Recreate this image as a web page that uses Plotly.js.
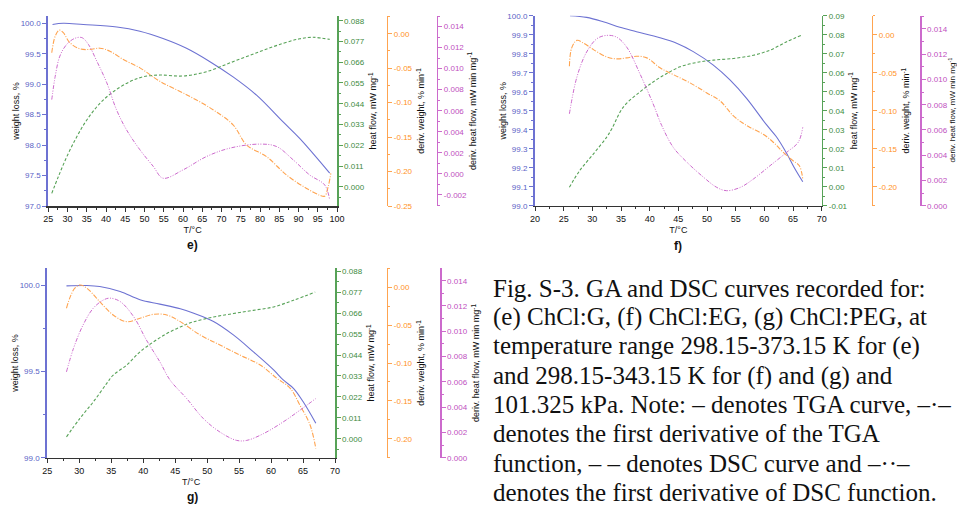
<!DOCTYPE html>
<html><head><meta charset="utf-8">
<script src="https://cdn.plot.ly/plotly-3.0.1.min.js"></script>
<style>html,body{margin:0;padding:0;background:#fff}#chart{width:957px;height:506px}</style>
</head><body><div id="chart"></div>
<script>
// ---------- Panel e: ChCl:G ----------
const eT_tga=[26.1,28.9,34.1,42.8,48.8,54.8,60.9,67.0,73.0,79.1,86.0,90.3,98.1];
const e_tga=[99.98,100.0,99.98,99.94,99.87,99.75,99.59,99.37,99.12,98.82,98.38,98.11,97.54];
const eT_dsc=[25.9,27.6,29.8,32.4,35.0,38.4,41.9,46.2,49.7,54.0,60.0,66.1,73.0,79.9,86.0,90.3,93.8,98.1];
const e_dsc=[-0.0035,0.0053,0.0159,0.0265,0.0354,0.0442,0.0504,0.0557,0.0583,0.0592,0.0587,0.0610,0.0663,0.0716,0.0760,0.0784,0.0792,0.0781];
const eT_dtg=[25.9,26.8,27.9,28.9,30.6,33.2,35.8,38.4,41.0,44.5,48.8,54.0,60.9,67.8,73.0,76.5,81.7,86.9,92.1,95.5,96.8,97.7,98.4];
const e_dtg=[-0.0277,-0.0035,0.0052,0.0015,-0.0131,-0.0219,-0.0229,-0.0210,-0.0254,-0.0375,-0.0496,-0.0691,-0.0885,-0.1103,-0.1322,-0.1614,-0.1784,-0.2051,-0.2245,-0.2343,-0.2357,-0.2221,-0.2026];
const eT_ddsc=[25.9,26.8,28.0,29.8,31.9,33.7,35.4,37.6,40.2,42.7,45.3,48.8,52.3,54.8,60.0,66.1,72.2,79.9,84.3,88.6,92.9,96.8,98.1];
const e_ddsc=[0.00706,0.00928,0.01119,0.01231,0.01288,0.01295,0.01231,0.01071,0.00865,0.00611,0.00420,0.00229,0.00070,-0.00041,0.00038,0.00165,0.00245,0.00283,0.00260,0.00134,-0.00010,-0.00105,-0.00248];

// ---------- Panel f: ChCl:EG ----------
const fT_tga=[26.1,29.0,31.9,34.8,37.7,41.8,44.7,47.6,51.1,54.0,56.9,60.4,62.1,63.9,65.3,66.7];
const f_tga=[100.0,99.991,99.968,99.939,99.916,99.884,99.855,99.811,99.740,99.662,99.565,99.425,99.363,99.275,99.196,99.126];
const fT_dsc=[26.0,27.8,30.2,32.5,33.4,35.4,38.3,40.6,43.0,45.3,48.2,51.1,54.6,58.1,61.0,63.9,66.5];
const f_dsc=[-0.0003,0.0085,0.0173,0.0261,0.0305,0.0419,0.0499,0.0551,0.0596,0.0631,0.0654,0.0666,0.0675,0.0692,0.0719,0.0763,0.0798];
const fT_dtg=[26.0,26.4,27.3,28.4,30.2,32.5,34.2,36.0,37.7,39.5,41.8,44.1,47.0,49.9,52.3,54.6,56.3,57.5,59.8,61.6,63.3,65.0,66.1,66.7];
const f_dtg=[-0.0415,-0.0174,-0.0075,-0.0109,-0.0196,-0.0292,-0.0318,-0.0305,-0.0284,-0.0305,-0.0436,-0.0524,-0.0632,-0.0763,-0.0873,-0.1069,-0.1165,-0.1221,-0.1309,-0.1418,-0.1548,-0.1658,-0.1724,-0.1898];
const fT_ddsc=[26.0,27.3,29.0,30.8,32.5,34.2,36.0,38.3,40.6,42.1,44.1,46.5,49.4,51.7,53.4,55.8,58.1,61.0,63.9,65.9,66.7];
const f_ddsc=[0.00728,0.01018,0.01217,0.01323,0.01349,0.01336,0.01256,0.01045,0.00807,0.00635,0.00463,0.00344,0.00225,0.00145,0.00119,0.00145,0.00212,0.00317,0.00423,0.00502,0.00621];

// ---------- Panel g: ChCl:PEG ----------
const gT_tga=[28.0,31.2,33.2,36.4,39.5,42.6,45.8,47.8,51.0,54.1,57.2,60.4,61.9,63.5,65.0,67.0];
const g_tga=[99.998,100.0,99.994,99.965,99.917,99.892,99.865,99.840,99.791,99.713,99.616,99.510,99.452,99.403,99.326,99.200];
const gT_dsc=[28.0,30.1,32.2,34.3,35.3,37.4,39.5,41.6,43.7,45.8,47.8,51.0,54.1,57.2,60.4,63.5,66.9];
const g_dsc=[0.0010,0.0107,0.0194,0.0291,0.0334,0.0387,0.0457,0.0509,0.0553,0.0588,0.0614,0.0640,0.0658,0.0675,0.0693,0.0728,0.0771];
const gT_dtg=[28.0,28.6,29.3,30.1,31.2,33.2,35.3,37.4,39.5,41.6,43.7,45.8,48.9,52.0,55.1,58.3,60.9,63.0,64.5,66.1,67.0];
const g_dtg=[-0.0277,-0.0124,-0.0013,0.0030,-0.0013,-0.0190,-0.0366,-0.0454,-0.0410,-0.0357,-0.0366,-0.0454,-0.0630,-0.0762,-0.0894,-0.1026,-0.1202,-0.1334,-0.1555,-0.1819,-0.2127];
const gT_ddsc=[28.0,29.1,30.6,32.2,33.8,34.8,36.4,38.5,40.5,42.6,44.2,46.8,49.4,52.0,54.6,56.2,58.8,61.9,64.5,67.0];
const g_ddsc=[0.00679,0.00865,0.0105,0.01183,0.01248,0.01262,0.01235,0.01116,0.00931,0.00759,0.00614,0.00468,0.0031,0.00203,0.00137,0.00137,0.0019,0.00283,0.00375,0.00468];

// ---------- Tick labels ----------
const eXticks=[25,30,35,40,45,50,55,60,65,70,75,80,85,90,95,100];
const fgXticks=[20,25,30,35,40,45,50,55,60,65,70];
const gXticks=[25,30,35,40,45,50,55,60,65,70];
const eWticks=['97.0','97.5','98.0','98.5','99.0','99.5','100.0'];
const fWticks=['99.0','99.1','99.2','99.3','99.4','99.5','99.6','99.7','99.8','99.9','100.0'];
const gWticks=['99.0','99.5','100.0'];
const eHFticks=['0.000','0.011','0.022','0.033','0.044','0.055','0.066','0.077','0.088'];
const fHFticks=['-0.01','0.00','0.01','0.02','0.03','0.04','0.05','0.06','0.07','0.08','0.09'];
const eDWticks=['-0.25','-0.20','-0.15','-0.10','-0.05','0.00'];
const fgDWticks=['-0.20','-0.15','-0.10','-0.05','0.00'];
const eDHticks=['-0.002','0.000','0.002','0.004','0.006','0.008','0.010','0.012','0.014'];
const fgDHticks=['0.000','0.002','0.004','0.006','0.008','0.010','0.012','0.014'];

const caption=[
 'Fig. S-3. GA and DSC curves recorded for:',
 '(e) ChCl:G, (f) ChCl:EG, (g) ChCl:PEG, at',
 'temperature range 298.15-373.15 K for (e)',
 'and 298.15-343.15 K for (f) and (g) and',
 '101.325 kPa. Note: \u2013 denotes TGA curve, \u2013\u00b7\u2013',
 'denotes the first derivative of the TGA',
 'function, \u2013 \u2013 denotes DSC curve and \u2013\u00b7\u00b7\u2013',
 'denotes the first derivative of DSC function.'
];

// ---------- styling ----------
const W=957,H=506;
const PX=p=>p/W, PY=p=>(H-p)/H;
const BLUE='#6d72d2', BLUE_T='#5a5fc6', GREEN='#57a257', GREEN_T='#3d8b3d', ORANGE='#ffa450', ORANGE_T='#ff9326', PURPLE='#cc6acc', PURPLE_T='#c04fc0';
const FONT='Liberation Sans, Arial, sans-serif';
const tf=(c)=>({family:FONT,size:8,color:c});
const ttl=(t)=>({text:t,font:{family:FONT,size:9,color:'#111'}});
const num=a=>a.map(Number);

function xax(dom,range,ticks,anchor,minorD){
  return {domain:dom,range:range,anchor:anchor,showline:true,linecolor:'#333',linewidth:1.5,
    ticks:'outside',ticklen:4,tickcolor:'#333',tickmode:'array',tickvals:ticks,ticktext:ticks.map(String),
    tickfont:{family:FONT,size:9,color:'#111'},minor:{ticks:'outside',ticklen:2,tickcolor:'#333',tickmode:'linear',tick0:ticks[0],dtick:minorD},
    title:{text:'T/°C',font:{family:FONT,size:9,color:'#111'},standoff:3},showgrid:false,zeroline:false,fixedrange:true};
}
function yax(o){
  const base={showline:true,ticks:'outside',ticklen:4,tickmode:'array',showgrid:false,zeroline:false,fixedrange:true};
  const a=Object.assign(base,o);
  a.tickvals=num(o.labels); a.ticktext=o.labels;
  a.minor={ticks:'outside',ticklen:2,tickcolor:o.linecolor,tickmode:'linear',tick0:Number(o.labels[0]),dtick:o.md};
  delete a.labels; delete a.md;
  return a;
}

const eDom=[PY(206),PY(16)], fDom=[PY(205.7),PY(15.7)], gDom=[PY(457.7),PY(268.3)];
const layout={
  width:W,height:H,margin:{l:0,r:0,t:0,b:0},paper_bgcolor:'#fff',plot_bgcolor:'rgba(0,0,0,0)',showlegend:false,
  xaxis: xax([PX(48.3),PX(337)],[25,100],eXticks,'y',2.5),
  xaxis2:xax([PX(535),PX(821.7)],[20,70],fgXticks,'y5',2.5),
  xaxis3:xax([PX(47.3),PX(335)],[25,70],gXticks,'y9',2.5),
  // panel e
  yaxis: yax({domain:eDom,range:[97,100.12],anchor:'x',side:'left',linecolor:BLUE,linewidth:2,tickcolor:BLUE,tickfont:tf(BLUE_T),labels:eWticks,md:0.25,title:ttl('weight loss, %')}),
  yaxis2:yax({overlaying:'y',range:[-0.0102,0.0905],anchor:'x',side:'right',linecolor:GREEN,linewidth:1.5,tickcolor:GREEN,tickfont:tf(GREEN_T),labels:eHFticks,md:0.0055,title:ttl('heat flow, mW mg<sup>-1</sup>')}),
  yaxis3:yax({overlaying:'y',range:[-0.25,0.0257],anchor:'free',position:PX(386.7),side:'right',linecolor:ORANGE,linewidth:1.5,tickcolor:ORANGE,tickfont:tf(ORANGE_T),labels:eDWticks,md:0.025,title:ttl('deriv. weight, % min<sup>-1</sup>')}),
  yaxis4:yax({overlaying:'y',range:[-0.00305,0.0150],anchor:'free',position:PX(436.7),side:'right',linecolor:PURPLE,linewidth:1.5,tickcolor:PURPLE,tickfont:tf(PURPLE_T),labels:eDHticks,md:0.001,title:ttl('deriv. heat flow, mW min mg<sup>-1</sup>')}),
  // panel f
  yaxis5:yax({domain:fDom,range:[99,100.0],anchor:'x2',side:'left',linecolor:BLUE,linewidth:2,tickcolor:BLUE,tickfont:tf(BLUE_T),labels:fWticks,md:0.05,title:ttl('weight loss, %')}),
  yaxis6:yax({overlaying:'y5',range:[-0.01,0.09],anchor:'x2',side:'right',linecolor:GREEN,linewidth:1.5,tickcolor:GREEN,tickfont:tf(GREEN_T),labels:fHFticks,md:0.005,title:ttl('heat flow, mW mg<sup>-1</sup>')}),
  yaxis7:yax({overlaying:'y5',range:[-0.225,0.025],anchor:'free',position:PX(871.7),side:'right',linecolor:ORANGE,linewidth:1.5,tickcolor:ORANGE,tickfont:tf(ORANGE_T),labels:fgDWticks,md:0.025,title:ttl('deriv. weight, % min<sup>-1</sup>')}),
  yaxis8:yax({overlaying:'y5',range:[0,0.01505],anchor:'free',position:PX(920),side:'right',linecolor:PURPLE,linewidth:1.5,tickcolor:PURPLE,tickfont:tf(PURPLE_T),labels:fgDHticks,md:0.001}),
  // panel g
  yaxis9: yax({domain:gDom,range:[99,100.1],anchor:'x3',side:'left',linecolor:BLUE,linewidth:2,tickcolor:BLUE,tickfont:tf(BLUE_T),labels:gWticks,md:0.25,title:ttl('weight loss, %')}),
  yaxis10:yax({overlaying:'y9',range:[-0.00997,0.0896],anchor:'x3',side:'right',linecolor:GREEN,linewidth:1.5,tickcolor:GREEN,tickfont:tf(GREEN_T),labels:eHFticks,md:0.0055,title:ttl('heat flow, mW mg<sup>-1</sup>')}),
  yaxis11:yax({overlaying:'y9',range:[-0.225,0.025],anchor:'free',position:PX(386.7),side:'right',linecolor:ORANGE,linewidth:1.5,tickcolor:ORANGE,tickfont:tf(ORANGE_T),labels:fgDWticks,md:0.025,title:ttl('deriv. weight, % min<sup>-1</sup>')}),
  yaxis12:yax({overlaying:'y9',range:[0,0.01498],anchor:'free',position:PX(440),side:'right',linecolor:PURPLE,linewidth:1.5,tickcolor:PURPLE,tickfont:tf(PURPLE_T),labels:fgDHticks,md:0.001,title:ttl('deriv. heat flow, mW min mg<sup>-1</sup>')}),
  annotations:[]
};

// panel f purple axis title: squeezed against the right edge, kept fully visible
layout.annotations.push({text:'deriv. heat flow, mW min mg<sup>-1</sup>',x:PX(951.5),y:PY(110),xref:'paper',yref:'paper',showarrow:false,textangle:-90,xanchor:'center',yanchor:'middle',borderpad:0,font:{family:FONT,size:8,color:'#111'}});

const labels=[['e)',192,245],['f)',678,246],['g)',192,497]];
labels.forEach(l=>layout.annotations.push({text:'<b>'+l[0]+'</b>',x:PX(l[1]),y:PY(l[2]),xref:'paper',yref:'paper',showarrow:false,xanchor:'center',yanchor:'middle',font:{family:FONT,size:12,color:'#111'}}));
caption.forEach((t,i)=>layout.annotations.push({text:t,x:PX(491),y:PY(288+i*29.2),xref:'paper',yref:'paper',showarrow:false,xanchor:'left',yanchor:'middle',align:'left',font:{family:'Liberation Serif, Times New Roman, serif',size:25,color:'#111'}}));

const st={
  tga:{color:BLUE,width:1.1,shape:'spline',dash:'solid'},
  dsc:{color:GREEN,width:1.1,shape:'spline',dash:'3px,2px'},
  dtg:{color:ORANGE,width:1.1,shape:'spline',dash:'5px,1.5px,1px,1.5px'},
  ddsc:{color:PURPLE,width:1.0,shape:'spline',dash:'4px,1.5px,1px,1.5px,1px,1.5px'}
};
function tr(x,y,xa,ya,s){return {x:x,y:y,xaxis:xa,yaxis:ya,mode:'lines',line:s,hoverinfo:'skip'};}
const data=[
  tr(eT_dsc,e_dsc,'x','y2',st.dsc), tr(eT_dtg,e_dtg,'x','y3',st.dtg), tr(eT_ddsc,e_ddsc,'x','y4',st.ddsc), tr(eT_tga,e_tga,'x','y',st.tga),
  tr(fT_dsc,f_dsc,'x2','y6',st.dsc), tr(fT_dtg,f_dtg,'x2','y7',st.dtg), tr(fT_ddsc,f_ddsc,'x2','y8',st.ddsc), tr(fT_tga,f_tga,'x2','y5',st.tga),
  tr(gT_dsc,g_dsc,'x3','y10',st.dsc), tr(gT_dtg,g_dtg,'x3','y11',st.dtg), tr(gT_ddsc,g_ddsc,'x3','y12',st.ddsc), tr(gT_tga,g_tga,'x3','y9',st.tga)
];
Plotly.newPlot('chart',data,layout,{staticPlot:true,displayModeBar:false});
</script></body></html>
